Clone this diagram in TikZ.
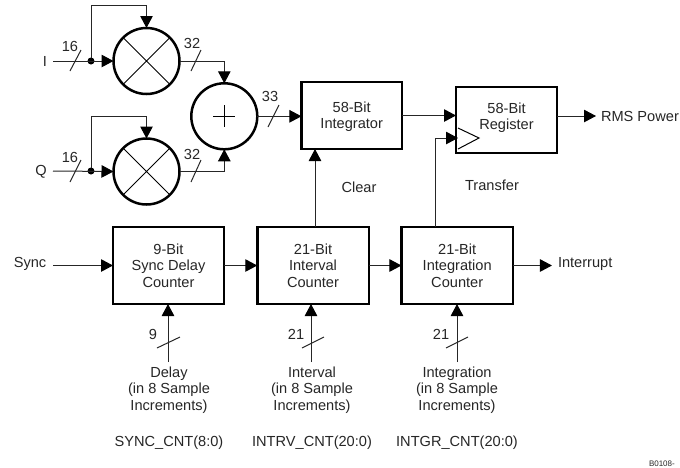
\documentclass[tikz,border=0pt]{standalone}
\usepackage{fontspec}
\setmainfont{Liberation Sans}
\usetikzlibrary{arrows.meta}
\tikzset{
  x=1pt,y=-1pt,
  every node/.style={inner sep=0pt,outer sep=0pt,font=\fontsize{14.6}{16.4}\selectfont,text=black!85},
  blockbox/.style={draw=black,line width=2.5pt,align=center,fill=white},
  opcircle/.style={draw=black,line width=2.5pt,circle,minimum size=66pt},
  wire/.style={line width=1pt,draw=black!85},
  flow/.style={wire,-{Triangle[length=12pt,width=12.5pt,color=black]}},
  slashmark/.style={line width=1pt,draw=black!85},
  textblock/.style={align=center},
  junction/.style={circle,fill=black,minimum size=7pt},
}
\begin{document}
\begin{tikzpicture}
\useasboundingbox (0,0) rectangle (680,467);
% operators
\node[opcircle] (m1) at (146.5,61) {};
\node[opcircle] (m2) at (146.5,171.5) {};
\node[opcircle] (sum) at (224.3,116.3) {};
\draw[line width=1pt] (m1.45) -- (m1.225) (m1.135) -- (m1.315);
\draw[line width=1pt] (m2.45) -- (m2.225) (m2.135) -- (m2.315);
\draw[line width=1pt] (213,116.3) -- (235,116.3) (224.3,105) -- (224.3,127);
% blocks
\node[blockbox,minimum width=100.5pt,minimum height=67pt] (integ) at (351.7,115.5) {\rule{0pt}{13pt}58-Bit\\Integrator};
\node[blockbox,minimum width=101pt,minimum height=66pt] (reg) at (506.5,120) {58-Bit\\Register\rule[-7.5pt]{0pt}{7.5pt}};
\node[blockbox,minimum width=111pt,minimum height=77pt] (sync) at (168.5,265.5) {9-Bit\\Sync Delay\\Counter};
\node[blockbox,minimum width=111.5pt,minimum height=77pt] (intv) at (313,265.5) {21-Bit\\Interval\\Counter};
\node[blockbox,minimum width=111.5pt,minimum height=77pt] (intg) at (457.2,265.5) {21-Bit\\Integration\\Counter};
% clock triangle
\coordinate (ck) at (458,138);
\draw[line width=1pt] (458,128) -- (479,138) -- (458,149);
% labels
\node (li) at (45,61.5) {I};
\node (lq) at (41,171.5) {Q};
\node (ls) at (30,264) {Sync};
\node (n16a) at (70,46) {16};
\node (n16b) at (70,157) {16};
\node (n32a) at (192,43) {32};
\node (n32b) at (192,154) {32};
\node (n33) at (270,96) {33};
\node (clear) at (359,187) {Clear};
\node (transfer) at (492,185) {Transfer};
\node[anchor=west] (rms) at (601,116) {RMS Power};
\node[anchor=west] (irq) at (558,264) {Interrupt};
\node (n9) at (153,334) {9};
\node (n21a) at (296,334) {21};
\node (n21b) at (441,334) {21};
\node[textblock] (d1) at (169,390) {Delay\\(in 8 Sample\\Increments)};
\node[textblock] (d2) at (312,390) {Interval\\(in 8 Sample\\Increments)};
\node[textblock] (d3) at (457,390) {Integration\\(in 8 Sample\\Increments)};
\node (r1) at (169,443) {SYNC\_CNT(8:0)};
\node (r2) at (312,443) {INTRV\_CNT(20:0)};
\node (r3) at (457,443) {INTGR\_CNT(20:0)};
\node[anchor=west,font=\fontsize{8}{9}\selectfont] (code) at (649,463.5) {B0108-};
% junctions
\node[junction] (j1) at (91,61) {};
\node[junction] (j2) at (91,171) {};
% free ends
\coordinate (si) at (53,61);
\coordinate (sq) at (53,171);
\coordinate (ss) at (53,265.5);
\coordinate (bu1) at (168,362);
\coordinate (bu2) at (311,362);
\coordinate (bu3) at (457,362);
% connectors
\draw[flow] (si) -- (m1.west);
\draw[flow] (sq) -- (m2.west);
\draw[flow] (j1) -- (91,5) -| (m1.north);
\draw[flow] (j2) -- (91,116) -| (m2.north);
\draw[flow] (m1.east) -| (sum.north);
\draw[flow] (m2.east) -| (sum.south);
\draw[flow] (sum.east) -- (integ.west |- sum.east);
\draw[flow] (integ.east |- 0,115.5) -- (reg.west |- 0,115.5);
\draw[flow] (intv.north -| 315,0) -- (integ.south -| 315,0);
\draw[flow] (intg.north -| 435,0) |- (ck);
\draw[flow] (ss) -- (sync.west);
\draw[flow] (sync.east) -- (intv.west);
\draw[flow] (intv.east) -- (intg.west);
\draw[flow] (intg.east) -- ++(39,0);
\draw[flow] (reg.east |- 0,116) -- ++(39,0);
\draw[flow] (bu1) -- (bu1 |- sync.south);
\draw[flow] (bu2) -- (bu2 |- intv.south);
\draw[flow] (bu3) -- (bu3 |- intg.south);
% bus slashes
\draw[slashmark] (70,71) -- (81,50);
\draw[slashmark] (70,182) -- (81,160);
\draw[slashmark] (191,71) -- (201,50);
\draw[slashmark] (191,182) -- (201,160);
\draw[slashmark] (268,127) -- (279,105);
\draw[slashmark] (157,348) -- (180,337);
\draw[slashmark] (302,348) -- (324,337);
\draw[slashmark] (446,348) -- (468,337);
\end{tikzpicture}
\end{document}
